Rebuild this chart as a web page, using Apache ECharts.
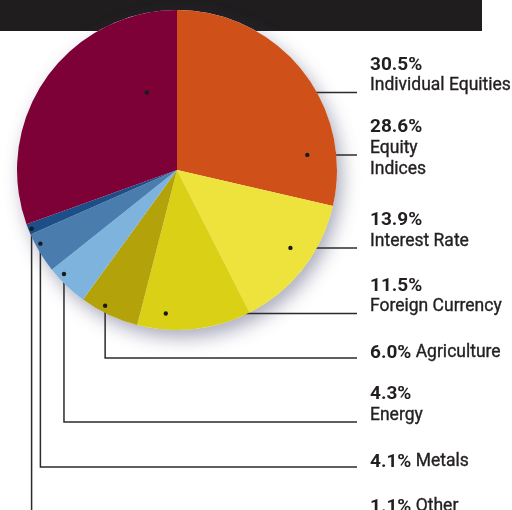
<!DOCTYPE html>
<html>
<head>
<meta charset="utf-8">
<script src="https://cdn.jsdelivr.net/npm/echarts@6/dist/echarts.min.js"></script>
<style>
  html, body { margin: 0; padding: 0; background: #ffffff; }
  #chart { width: 512px; height: 510px; }
</style>
</head>
<body>
<div id="chart"></div>
<script>
// Slices listed clockwise, starting at 12 o'clock
const categories = ['Equity Indices', 'Interest Rate', 'Foreign Currency', 'Agriculture',
                    'Energy', 'Metals', 'Other', 'Individual Equities'];
const shares = [28.6, 13.9, 11.5, 6.0, 4.3, 4.1, 1.1, 30.5];
// Name text under each percentage ('\n' splits a name over two lines)
const labelNames = ['Equity\nIndices', 'Interest Rate', 'Foreign Currency', 'Agriculture',
                    'Energy', 'Metals', 'Other', 'Individual Equities'];
// Labels whose name sits on the same line as the figure
const singleLine = [false, false, false, true, false, true, true, false];
const sliceColors = ['#CF5119', '#EEE33C', '#DAD116', '#B3A20A',
                     '#7DB3DC', '#4A7DAE', '#1C4F87', '#7D0036'];

// Leader anchors inside each slice: [fraction along the slice's sweep, fraction of radius]
const anchorPos = [[0.81, 0.82], [0.43, 0.86], [0.76, 0.90], [0.625, 0.96],
                   [0.735, 0.96], [0.69, 0.97], [0.45, 0.98], [0.806, 0.52]];
// 'h' runs straight across; a number drops the leader to that y, then runs across
const leaderRoute = ['h', 'h', 'h', 358, 422, 467, 512, 'h'];

const CX = 177, CY = 170, R = 160;
const LINE_END = 357, TEXT_X = 370;
const INK = '#231f20';

const total = shares.reduce((a, b) => a + b, 0);

// Point inside slice i, measured clockwise from the top of the pie
function anchorPoint(i) {
  let start = 0;
  for (let k = 0; k < i; k++) start += shares[k];
  const frac = (start + shares[i] * anchorPos[i][0]) / total;
  const ang = frac * 2 * Math.PI;
  const r = R * anchorPos[i][1];
  return [CX + r * Math.sin(ang), CY - r * Math.cos(ang)];
}

function labelText(i) {
  const pct = shares[i].toFixed(1) + '%';
  if (singleLine[i]) return '{p|' + pct + '} {t|' + labelNames[i] + '}';
  return '{p|' + pct + '}\n' + labelNames[i].split('\n').map(s => '{t|' + s + '}').join('\n');
}

const chart = echarts.init(document.getElementById('chart'), null, { renderer: 'canvas' });

const dots = categories.map((c, i) => {
  const p = anchorPoint(i);
  return {
    type: 'circle', z: 20, silent: true,
    shape: { cx: p[0], cy: p[1], r: 2.2 },
    style: { fill: '#1a1a1a' }
  };
});

chart.setOption({
  animation: false,
  backgroundColor: '#ffffff',
  graphic: [
    { type: 'rect', z: 0, silent: true,
      shape: { x: 0, y: 0, width: 482, height: 31 },
      style: { fill: '#1f1d1e' } }
  ].concat(dots),
  series: [
    {
      // soft drop shadow under the whole disc
      type: 'pie', z: 1, silent: true,
      center: [CX, CY], radius: R,
      label: { show: false }, labelLine: { show: false },
      itemStyle: { color: '#ffffff', shadowBlur: 18, shadowOffsetX: 5, shadowOffsetY: 8,
                   shadowColor: 'rgba(70,70,110,0.45)' },
      data: [{ value: 1 }]
    },
    {
      type: 'pie', z: 2,
      center: [CX, CY], radius: R,
      startAngle: 90, clockwise: true,
      avoidLabelOverlap: false,
      emphasis: { disabled: true },
      data: categories.map((name, i) => ({
        name: name, value: shares[i], itemStyle: { color: sliceColors[i] }
      })),
      label: {
        show: true, position: 'outside',
        formatter: p => labelText(p.dataIndex),
        fontFamily: 'Roboto', fontSize: 17.5, color: INK, lineHeight: 21,
        rich: {
          p: { fontFamily: 'Roboto', fontWeight: 'bold', fontSize: 19, lineHeight: 21, color: INK },
          t: { fontFamily: 'Roboto', fontSize: 17.5, lineHeight: 21, color: INK,
               textBorderColor: INK, textBorderWidth: 0.35 }
        }
      },
      labelLine: { show: true, lineStyle: { color: '#2b2b2b', width: 1.5 } },
      labelLayout: function (params) {
        const i = params.dataIndex;
        const a = anchorPoint(i);
        const route = leaderRoute[i];
        const ly = route === 'h' ? a[1] : route;
        const pts = route === 'h'
          ? [a, [(a[0] + LINE_END) / 2, ly], [LINE_END, ly]]
          : [a, [a[0], ly], [LINE_END, ly]];
        const capOffset = singleLine[i] ? 11.5 : 34;
        return {
          x: TEXT_X, y: ly - capOffset - 4.2,
          align: 'left', verticalAlign: 'top',
          labelLinePoints: pts
        };
      }
    }
  ]
});
</script>
</body>
</html>
